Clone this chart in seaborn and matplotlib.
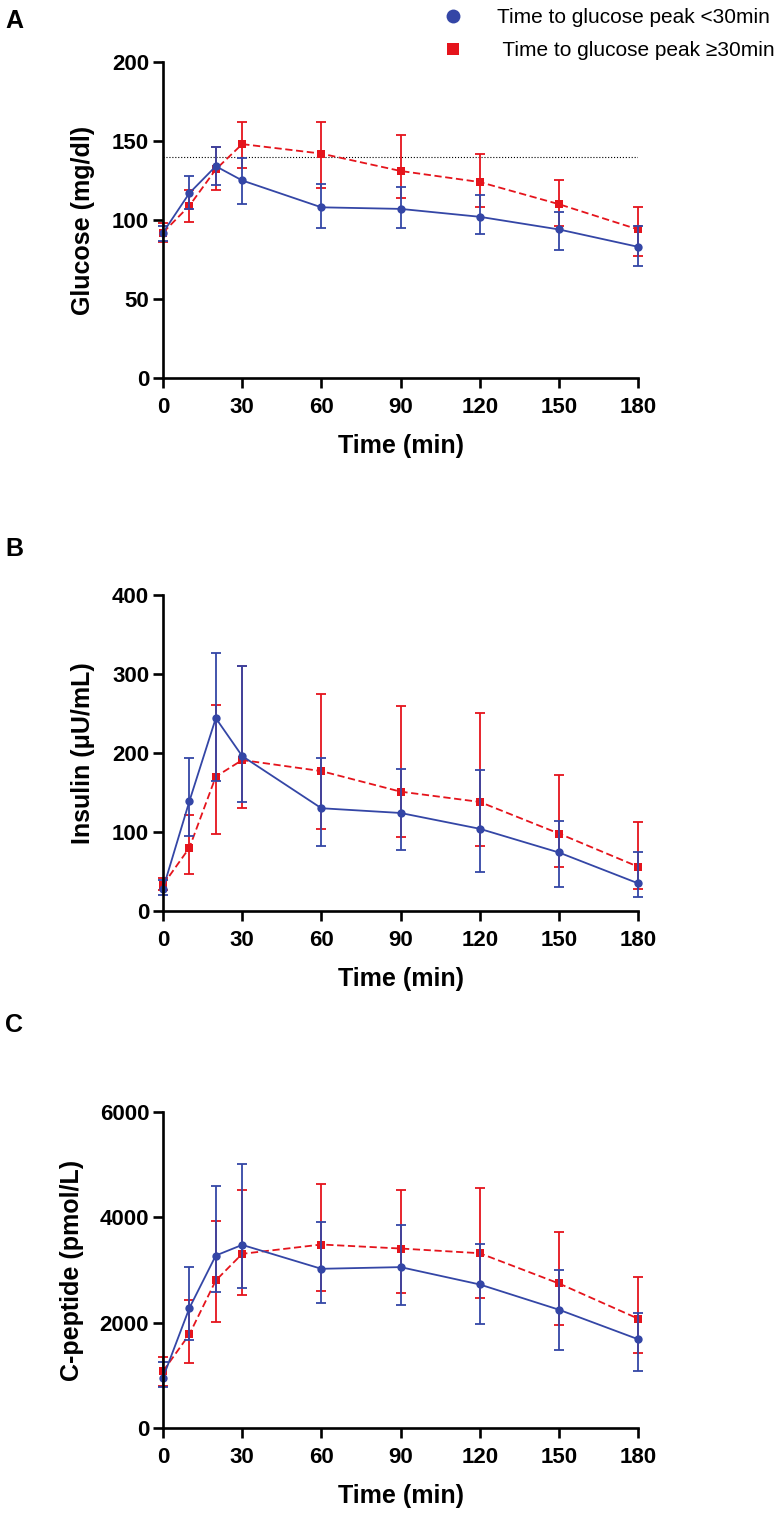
import matplotlib
matplotlib.use('Agg')
import matplotlib.pyplot as plt
import pandas as pd
import seaborn as sns
from matplotlib.lines import Line2D

# Data (mean with lower / upper error bar ends)
time = [0, 10, 20, 30, 60, 90, 120, 150, 180]
groups = ['fast', 'slow']
group_labels = ['Time to glucose peak <30min', ' Time to glucose peak \u226530min']

glu_fast = [92, 117, 134, 125, 108, 107, 102, 94, 83]
glu_fast_lo = [87, 107, 122, 110, 95, 95, 91, 81, 71]
glu_fast_hi = [96, 128, 146, 139, 123, 121, 116, 105, 96]
glu_slow = [92, 109, 132, 148, 142, 131, 124, 110, 94]
glu_slow_lo = [86, 99, 119, 133, 120, 114, 108, 96, 77]
glu_slow_hi = [98, 119, 146, 162, 162, 154, 142, 125, 108]
glu_threshold = 140

ins_fast = [28, 139, 244, 196, 130, 124, 104, 74, 35]
ins_fast_lo = [20, 95, 165, 138, 82, 77, 49, 30, 18]
ins_fast_hi = [39, 193, 326, 310, 194, 180, 179, 114, 75]
ins_slow = [33, 80, 170, 191, 177, 151, 138, 98, 56]
ins_slow_lo = [26, 47, 97, 130, 104, 94, 82, 55, 28]
ins_slow_hi = [42, 122, 261, 310, 274, 259, 251, 172, 112]

cp_fast = [957, 2278, 3274, 3476, 3022, 3054, 2725, 2246, 1685]
cp_fast_lo = [779, 1678, 2580, 2656, 2372, 2328, 1968, 1476, 1083]
cp_fast_hi = [1254, 3054, 4587, 5009, 3918, 3855, 3489, 2997, 2183]
cp_slow = [1077, 1779, 2801, 3306, 3483, 3407, 3318, 2744, 2076]
cp_slow_lo = [800, 1242, 2006, 2530, 2600, 2561, 2461, 1956, 1425]
cp_slow_hi = [1349, 2435, 3930, 4517, 4631, 4524, 4549, 3716, 2858]

blue = '#3446a6'
red = '#e5141c'

sns.set_style('ticks')
plt.rcParams['font.family'] = ['Liberation Sans', 'DejaVu Sans']
plt.rcParams['font.weight'] = 'bold'
plt.rcParams['axes.labelweight'] = 'bold'
plt.rcParams['text.color'] = 'black'
plt.rcParams['axes.labelcolor'] = 'black'
plt.rcParams['xtick.color'] = 'black'
plt.rcParams['ytick.color'] = 'black'

fig = plt.figure(figsize=(7.8, 15.18), dpi=100)

panels = [
    ('A', 'Glucose (mg/dl)', (glu_fast, glu_fast_lo, glu_fast_hi), (glu_slow, glu_slow_lo, glu_slow_hi),
     [0, 50, 100, 150, 200], 0.7510, 1 - 21 / 1518, 12.5),
    ('B', 'Insulin (\u03bcU/mL)', (ins_fast, ins_fast_lo, ins_fast_hi), (ins_slow, ins_slow_lo, ins_slow_hi),
     [0, 100, 200, 300, 400], 0.3999, 1 - 549 / 1518, 12.5),
    ('C', 'C-peptide (pmol/L)', (cp_fast, cp_fast_lo, cp_fast_hi), (cp_slow, cp_slow_lo, cp_slow_hi),
     [0, 2000, 4000, 6000], 0.0593, 1 - 1025 / 1518, 11),
]

for letter, ylab, fast, slow, yticks, bottom, letter_y, ypad in panels:
    ax = fig.add_axes([0.209, bottom, 0.609, 0.2082])
    df = pd.DataFrame({
        'time': time * 2,
        'value': fast[0] + slow[0],
        'group': ['fast'] * len(time) + ['slow'] * len(time),
    })

    # red drawn first, blue on top
    for g, (mean, lo, hi), col in [('slow', slow, red), ('fast', fast, blue)]:
        ax.errorbar(time, mean, yerr=[[m - l for m, l in zip(mean, lo)], [h - m for m, h in zip(mean, hi)]],
                    fmt='none', ecolor=col, elinewidth=1.3, capsize=3.5, capthick=1.3, clip_on=False)
        sub = df[df['group'] == g]
        sns.lineplot(data=sub, x='time', y='value', color=col, ax=ax, legend=False,
                     marker='o' if g == 'fast' else 's', markersize=6, markeredgewidth=0,
                     linewidth=1.3, linestyle='-' if g == 'fast' else (0, (4, 2)), clip_on=False)

    if letter == 'A':
        ax.axhline(glu_threshold, color='black', linestyle=':', linewidth=0.8, zorder=0)

    ax.set_xlim(0, 180)
    ax.set_ylim(yticks[0], yticks[-1])
    ax.set_xticks([0, 30, 60, 90, 120, 150, 180])
    ax.set_yticks(yticks)
    ax.set_xlabel('Time (min)', fontsize=18, labelpad=11)
    ax.set_ylabel(ylab, fontsize=18, labelpad=ypad)
    sns.despine(ax=ax)
    for side in ['left', 'bottom']:
        ax.spines[side].set_linewidth(1.9)
        ax.spines[side].set_color('black')
    ax.tick_params(width=1.9, length=7, labelsize=16, colors='black')
    ax.tick_params(axis='x', pad=7)
    ax.tick_params(axis='y', pad=3)
    fig.text(0.007, letter_y, letter, fontsize=18, fontweight='bold', va='center', ha='left')

handles = [Line2D([], [], marker='o', color=blue, linestyle='', markersize=10, markeredgewidth=0),
           Line2D([], [], marker='s', color=red, linestyle='', markersize=9, markeredgewidth=0)]
fig.legend(handles, group_labels, loc='upper left', bbox_to_anchor=(0.541, 1.0015),
           frameon=False, prop={'size': 15, 'weight': 'normal'},
           handletextpad=1.1, labelspacing=0.66, borderpad=0.0)

fig.savefig('out.png', dpi=100)
